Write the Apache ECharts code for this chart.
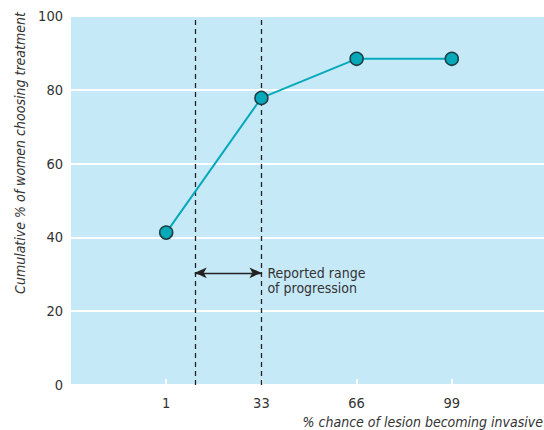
<!DOCTYPE html>
<html><head><meta charset="utf-8">
<script src="https://cdn.jsdelivr.net/npm/echarts@6/dist/echarts.min.js"></script>
<style>html,body{margin:0;padding:0;background:#fff;overflow:hidden}#c{width:544px;height:430px}</style>
</head><body><div id="c"></div>
<script>
// data
var xPositions = [1, 2, 3, 4];
var tickLabels = ['1', '33', '66', '99'];
var yValues = [41.3, 77.8, 88.4, 88.4];
var rangeX = [1.3, 2];          // reported range of progression (≈10% to 33%)
var arrowY = 30.4;
var yTicks = [0, 20, 40, 60, 80, 100];
var xTitle = '% chance of lesion becoming invasive';
var yTitle = 'Cumulative % of women choosing treatment';

var FONT = '"DejaVu Sans Condensed","Liberation Sans Narrow",sans-serif';
var chart = echarts.init(document.getElementById('c'), null, {renderer: 'svg'});
var pts = xPositions.map(function (x, i) { return [x, yValues[i]]; });

chart.setOption({
  animation: false,
  grid: {left: 71, right: -3, top: 16, bottom: 45, show: true, backgroundColor: '#c6e9f8', borderWidth: 0,
    containLabel: false, outerBoundsMode: 'none'},
  xAxis: {
    type: 'value', min: 0, max: 5, interval: 1,
    axisLine: {show: false},
    splitLine: {show: false},
    axisTick: {show: true, inside: true, length: 6, lineStyle: {color: '#ffffff', width: 2}, customValues: xPositions},
    axisLabel: {customValues: xPositions, margin: 10, color: '#333', fontFamily: FONT, fontSize: 14.5,
      formatter: function (v) { var i = xPositions.indexOf(v); return i >= 0 ? tickLabels[i] : ''; }}
  },
  yAxis: {
    type: 'value', min: 0, max: 100, interval: 20,
    axisLine: {show: false}, axisTick: {show: false},
    splitLine: {show: true, lineStyle: {color: '#ffffff', width: 2}},
    axisLabel: {margin: 8, color: '#333', fontFamily: FONT, fontSize: 14.5, customValues: yTicks}
  },
  series: [{
    type: 'line', data: pts, symbol: 'circle', symbolSize: 13,
    lineStyle: {color: '#05a9b9', width: 2},
    itemStyle: {color: '#05a9b9', borderColor: '#1e3d44', borderWidth: 1.5},
    z: 5,
    markLine: {
      silent: true, symbol: ['none', 'none'], label: {show: false},
      lineStyle: {color: '#222', type: [5, 4], width: 1.3},
      data: [
        {xAxis: rangeX[0]}, {xAxis: rangeX[1]},
        [{coord: [rangeX[0], arrowY], symbol: 'arrow', symbolSize: [8, 12], lineStyle: {type: 'solid', color: '#222', width: 1.3}},
         {coord: [rangeX[1], arrowY], symbol: 'arrow', symbolSize: [8, 12]}]
      ]
    }
  }]
});

var p = chart.convertToPixel('grid', [rangeX[1], arrowY]);
chart.setOption({
  graphic: [
    {type: 'text', x: p[0] + 6, y: p[1] - 8,
     style: {text: 'Reported range\nof progression', fontFamily: FONT, fontSize: 14, lineHeight: 15.5, fill: '#333', verticalAlign: 'top'}},
    {type: 'text', x: 543, y: 422,
     style: {text: xTitle, fontFamily: FONT, fontStyle: 'italic', fontSize: 14, fill: '#333', align: 'right', verticalAlign: 'middle'}},
    {type: 'text', x: 20, y: 153, rotation: Math.PI / 2,
     style: {text: yTitle, fontFamily: FONT, fontStyle: 'italic', fontSize: 14, fill: '#333', align: 'center', verticalAlign: 'middle'}}
  ]
});
</script></body></html>
